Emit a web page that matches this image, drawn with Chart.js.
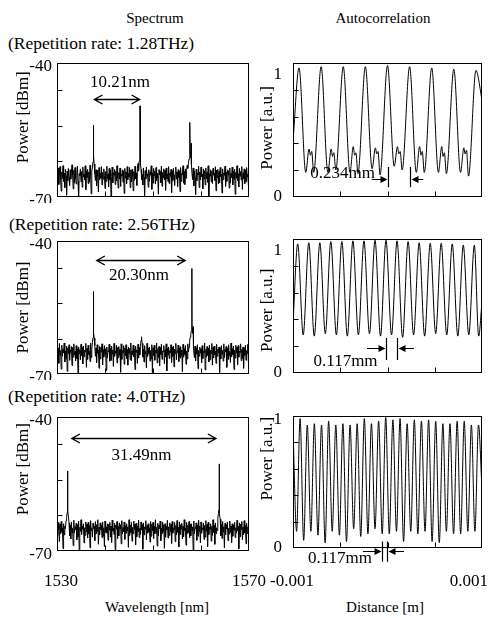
<!DOCTYPE html>
<html><head><meta charset="utf-8">
<script src="https://cdn.jsdelivr.net/npm/chart.js@4.4.1/dist/chart.umd.min.js"></script>
<style>
html,body{margin:0;padding:0;background:#fff;width:492px;height:618px;overflow:hidden;position:relative;font-family:'Liberation Serif','DejaVu Serif',serif;color:#000;}
canvas{position:absolute;}
.t{position:absolute;white-space:nowrap;line-height:1;transform:translateY(-50%);}
.c{transform:translate(-50%,-50%);}
</style></head><body>
<div class="t c" style="left:155px;top:18px;font-size:15px">Spectrum</div>
<div class="t c" style="left:383px;top:18px;font-size:15px">Autocorrelation</div>
<div class="t" style="left:8px;top:44px;font-size:17.5px">(Repetition rate: 1.28THz)</div>
<div class="t" style="left:9px;top:225px;font-size:17.5px">(Repetition rate: 2.56THz)</div>
<div class="t" style="left:8px;top:397px;font-size:17.5px">(Repetition rate: 4.0THz)</div>
<div class="t c" style="left:157px;top:607px;font-size:15px">Wavelength [nm]</div>
<div class="t c" style="left:385px;top:607px;font-size:15px">Distance [m]</div>

<canvas id="L1" width="270" height="150" style="left:0;top:53px"></canvas>
<canvas id="L2" width="270" height="149" style="left:0;top:231px"></canvas>
<canvas id="L3" width="270" height="193" style="left:0;top:407px"></canvas>
<canvas id="R1" width="240" height="150" style="left:252px;top:53px"></canvas>
<canvas id="R2" width="240" height="150" style="left:252px;top:229px"></canvas>
<canvas id="R3" width="240" height="194" style="left:252px;top:406px"></canvas>

<script>
// ---------------- DATA ----------------
// Spectrum sampling grid (nm)
const SPEC_WL_START = 1530;
const SPEC_WL_STEP = 0.125;
const specXTickValues = [1530, 1570];
const specXTickLabels = ['1530', '1570'];
const specYTickValues = [-70, -40];
const specYTickLabels = ['-70', '-40'];
const specMinorX = [1540, 1550, 1560];
const specMinorY = [-62, -54, -46];

// 1.28 THz spectrum: noise floor (dBm) and lines
const specNoise1 = [
-64.1,-66.8,-63.5,-67.2,-64.9,-63.2,-66.1,-68.7,-64.4,-65.9,-63.0,-66.5,-64.7,-67.9,-63.8,-65.4,-69.6,-64.2,-66.3,-63.6,
-65.7,-67.4,-63.9,-66.0,-64.5,-62.8,-65.1,-68.2,-64.0,-66.9,-63.4,-65.8,-67.1,-64.6,-63.1,-66.4,-69.9,-64.8,-65.2,-63.7,
-66.6,-64.3,-67.8,-63.3,-65.5,-64.9,-66.2,-63.0,-68.4,-64.1,-65.6,-63.8,-67.0,-64.4,-66.7,-62.9,-65.0,-69.3,-64.2,-63.5,
-62.1,-61.0,-62.6,-64.8,-66.3,-63.9,-67.5,-64.0,-65.3,-68.9,-63.4,-66.1,-64.7,-65.8,-63.2,-67.3,-64.5,-66.0,-63.7,-65.2,
-68.1,-64.3,-66.5,-63.1,-65.9,-64.8,-67.7,-63.6,-66.2,-64.0,-69.8,-65.4,-63.3,-66.8,-64.6,-65.1,-63.8,-67.2,-64.2,-66.4,
-63.0,-65.7,-68.0,-64.5,-66.0,-63.5,-67.6,-64.9,-65.3,-63.9,-66.7,-64.1,-69.2,-63.6,-65.8,-64.4,-67.0,-63.2,-66.1,-64.7,
-65.5,-63.4,-67.9,-64.0,-66.6,-63.8,-65.2,-68.6,-64.3,-66.3,-63.1,-65.9,-64.6,-67.4,-63.7,-62.5,-64.2,-62.0,-61.2,-62.3,
-63.8,-66.2,-64.9,-67.3,-63.5,-65.6,-69.7,-64.1,-66.0,-63.3,-65.4,-64.8,-67.8,-63.9,-66.5,-64.4,-65.1,-63.0,-68.3,-64.6,
-66.9,-63.6,-65.3,-64.2,-67.1,-63.4,-66.4,-64.7,-65.8,-69.4,-63.9,-65.0,-64.3,-66.8,-63.1,-67.6,-64.5,-65.7,-63.7,-66.2,
-64.0,-68.5,-63.5,-65.9,-64.8,-66.6,-63.2,-67.0,-64.6,-65.4,-63.8,-69.0,-64.1,-66.3,-63.6,-65.2,-67.4,-64.9,-63.3,-66.0,
-64.4,-67.7,-63.9,-65.6,-64.2,-68.8,-63.4,-66.5,-64.7,-65.1,-63.0,-66.9,-64.3,-67.2,-63.7,-65.8,-64.0,-62.9,-63.6,-62.4,
-61.5,-60.4,-59.8,-61.1,-62.7,-64.8,-66.1,-63.5,-67.5,-64.2,-65.7,-69.5,-63.8,-66.4,-64.6,-65.0,-63.1,-67.9,-64.4,-66.2,
-63.3,-65.5,-64.9,-68.2,-63.7,-66.0,-64.1,-67.3,-63.5,-65.9,-64.5,-66.7,-63.0,-69.9,-64.8,-65.3,-63.9,-66.6,-64.2,-67.0,
-63.6,-65.1,-64.7,-66.3,-63.2,-68.6,-64.0,-65.7,-63.8,-67.1,-64.3,-66.8,-63.4,-65.4,-64.9,-69.1,-63.7,-66.1,-64.6,-65.2,
-63.1,-67.6,-64.4,-66.5,-63.9,-65.0,-64.1,-68.0,-63.5,-66.9,-64.7,-65.6,-63.3,-67.3,-64.2,-66.0,-63.8,-69.4,-64.5,-65.8,
-63.0,-66.4,-64.8,-67.7,-63.6,-65.3,-64.3,-66.2,-63.2,-68.3,-64.6,-65.9,-63.7,-67.0,-64.0,-66.6,-63.4,-65.5,-64.9,-67.4,
-64.2];
const specPeakWl1  = [1537.6, 1547.3, 1557.7, 1557.95];
const specPeakDbm1 = [-53.9, -49.6, -53.3, -58.0];

// 2.56 THz spectrum
const specNoise2 = [
-63.9,-66.4,-64.2,-67.6,-63.1,-65.8,-64.7,-68.9,-63.5,-66.0,-64.4,-65.2,-63.0,-67.3,-64.8,-66.6,-63.7,-69.4,-64.1,-65.5,
-63.4,-66.9,-64.6,-65.1,-63.8,-68.1,-64.0,-66.2,-63.2,-65.7,-64.9,-67.0,-63.6,-66.5,-64.3,-69.8,-63.9,-65.4,-64.5,-66.8,
-63.3,-65.9,-64.0,-67.7,-63.7,-66.1,-64.6,-65.0,-63.1,-68.5,-64.2,-66.7,-63.5,-65.6,-64.8,-67.2,-63.0,-66.3,-64.4,-62.9,
-61.8,-60.7,-61.9,-63.6,-66.0,-64.1,-67.4,-63.4,-65.3,-64.7,-68.7,-63.8,-66.6,-64.0,-65.1,-63.2,-67.9,-64.5,-66.2,-63.6,
-65.7,-64.3,-69.2,-63.9,-66.4,-64.8,-65.0,-63.3,-67.1,-64.2,-66.9,-63.7,-65.5,-64.6,-68.3,-63.1,-66.0,-64.9,-65.3,-63.5,
-67.5,-64.0,-66.3,-63.8,-65.8,-64.4,-69.6,-63.2,-66.7,-64.7,-65.2,-63.6,-67.8,-64.1,-65.9,-63.4,-66.5,-64.5,-68.0,-63.9,
-65.4,-64.2,-66.8,-63.0,-67.0,-64.8,-65.6,-63.5,-66.1,-64.3,-69.0,-63.7,-65.1,-64.6,-67.6,-63.3,-66.4,-64.0,-65.7,-63.8,
-62.4,-61.9,-63.1,-66.2,-64.4,-67.3,-63.6,-65.4,-64.9,-68.6,-63.1,-66.0,-64.2,-65.5,-63.9,-67.1,-64.7,-66.6,-63.4,-69.7,
-64.1,-65.8,-63.5,-66.9,-64.6,-65.2,-63.0,-67.5,-64.3,-66.3,-63.8,-68.2,-64.0,-65.6,-63.3,-66.7,-64.8,-65.0,-63.6,-67.7,
-64.5,-66.1,-63.2,-69.3,-64.2,-65.7,-63.9,-66.5,-64.7,-65.3,-63.4,-67.4,-64.0,-66.0,-63.7,-68.4,-64.4,-65.4,-63.1,-66.8,
-64.9,-65.1,-63.5,-67.2,-64.1,-66.4,-63.8,-65.9,-64.6,-69.5,-63.3,-66.2,-64.3,-65.6,-63.6,-67.8,-64.8,-66.6,-63.2,-65.0,
-64.0,-62.6,-61.7,-61.0,-60.2,-59.6,-60.8,-62.5,-64.4,-66.3,-63.7,-67.0,-64.1,-65.5,-63.4,-68.8,-64.7,-66.0,-63.9,-65.3,
-64.3,-67.5,-63.6,-66.5,-64.9,-65.1,-63.0,-69.1,-64.5,-66.2,-63.8,-65.8,-64.2,-67.3,-63.5,-66.8,-64.6,-65.4,-63.1,-68.0,
-64.0,-66.4,-63.7,-65.7,-64.8,-67.6,-63.3,-66.0,-64.4,-65.2,-63.9,-69.7,-64.1,-66.6,-63.6,-65.5,-64.7,-67.1,-63.2,-66.3,
-64.5,-65.0,-63.8,-68.5,-64.2,-66.7,-63.4,-65.9,-64.9,-67.4,-63.0,-66.1,-64.3,-65.6,-63.7,-69.0,-64.6,-66.4,-63.5,-65.3,
-64.0,-67.9,-63.6,-66.2,-64.8,-65.1,-63.2,-67.0,-64.4,-66.5,-63.9,-68.7,-64.1,-65.8,-63.5,-66.9,-64.7,-65.4,-63.3,-67.2,
-64.6];
const specPeakWl2  = [1537.6, 1547.6, 1558.1, 1558.35];
const specPeakDbm2 = [-51.4, -61.6, -46.2, -59.3];

// 4.0 THz spectrum
const specNoise3 = [
-64.3,-66.7,-63.6,-65.2,-67.9,-64.0,-66.1,-63.4,-65.8,-64.8,-69.5,-63.9,-66.4,-64.5,-65.0,-63.2,-62.5,-61.4,-60.9,-62.2,
-63.7,-66.6,-64.2,-67.3,-63.5,-65.9,-64.9,-68.8,-63.1,-66.0,-64.6,-65.3,-63.8,-67.5,-64.1,-66.8,-63.3,-69.9,-64.7,-65.6,
-63.0,-66.3,-64.4,-65.1,-63.9,-68.2,-64.8,-66.5,-63.5,-65.7,-64.0,-67.1,-63.6,-66.2,-64.3,-69.3,-63.2,-65.4,-64.9,-66.9,
-63.8,-65.0,-64.5,-67.7,-63.4,-66.1,-64.1,-65.6,-63.0,-68.5,-64.7,-66.4,-63.7,-65.2,-64.2,-67.0,-63.5,-66.7,-64.8,-69.0,
-63.3,-65.8,-64.6,-66.0,-63.9,-67.6,-64.0,-65.3,-63.6,-66.9,-64.4,-68.1,-63.1,-65.5,-64.9,-66.3,-63.8,-69.7,-64.2,-65.1,
-63.4,-67.2,-64.5,-66.6,-63.7,-65.0,-64.1,-68.4,-63.2,-66.2,-64.8,-65.7,-63.5,-67.4,-64.3,-66.0,-63.9,-65.4,-64.6,-69.2,
-63.0,-66.5,-64.2,-65.9,-63.6,-67.8,-64.7,-66.1,-63.3,-65.2,-64.0,-68.6,-63.8,-66.8,-64.4,-65.6,-63.1,-67.0,-64.9,-66.3,
-63.5,-65.3,-64.1,-69.6,-63.7,-66.4,-64.6,-65.1,-63.2,-67.5,-64.3,-66.0,-63.9,-65.8,-64.8,-68.0,-63.4,-66.7,-64.0,-65.5,
-63.6,-67.2,-64.5,-66.2,-63.0,-65.9,-64.7,-68.9,-63.8,-66.6,-64.2,-65.0,-63.3,-67.7,-64.9,-66.1,-63.5,-65.7,-64.1,-69.4,
-63.9,-66.9,-64.4,-65.3,-63.1,-67.1,-64.6,-66.5,-63.7,-65.6,-64.0,-68.3,-63.4,-66.0,-64.8,-65.2,-63.6,-67.9,-64.3,-66.4,
-63.2,-65.8,-64.7,-69.1,-63.5,-66.3,-64.1,-65.1,-63.8,-67.3,-64.5,-66.8,-63.0,-65.4,-64.9,-68.7,-63.6,-66.1,-64.2,-65.9,
-63.4,-67.0,-64.0,-66.6,-63.9,-65.5,-64.6,-69.8,-63.3,-66.2,-64.8,-65.0,-63.7,-67.6,-64.2,-66.7,-63.1,-65.7,-64.4,-68.2,
-63.5,-66.0,-64.9,-65.3,-63.8,-67.4,-64.3,-66.9,-63.2,-65.6,-64.1,-69.0,-63.6,-66.3,-64.7,-65.1,-63.9,-67.8,-64.5,-66.5,
-63.0,-65.9,-64.2,-68.5,-63.7,-66.1,-64.8,-65.4,-62.7,-61.6,-60.8,-61.5,-62.9,-66.6,-64.0,-67.2,-63.4,-65.7,-64.6,-69.3,
-63.8,-66.4,-64.1,-65.0,-63.5,-67.7,-64.9,-66.2,-63.3,-65.8,-64.4,-68.1,-63.9,-66.7,-64.2,-65.3,-63.6,-67.0,-64.8,-66.0,
-63.1,-65.5,-64.5,-69.5,-63.7,-66.8,-64.0,-65.2,-63.4,-67.5,-64.7,-66.3,-63.2,-65.9,-64.3,-68.4,-63.8,-66.1,-64.6,-65.6,
-64.1];
const specPeakWl3  = [1532.2, 1563.75];
const specPeakDbm3 = [-52.1, -50.5];

// Autocorrelation axes (distance in mm, labelled in m)
const acXTickValues = [-1, 1];
const acXTickLabels = ['-0.001', '0.001'];
const acYTickValues = [0, 1];
const acYTickLabels = ['0', '1'];
const acMinorX = [-0.5, 0, 0.5];

// 1.28 THz autocorrelation
const acDist1 = [-1.000,-0.936,-0.865,-0.830,-0.816,-0.802,-0.781,
 -0.702,-0.631,-0.596,-0.582,-0.568,-0.547,
 -0.468,-0.397,-0.362,-0.348,-0.334,-0.313,
 -0.234,-0.163,-0.128,-0.114,-0.100,-0.079,
  0.000, 0.071, 0.106, 0.120, 0.134, 0.155,
  0.234, 0.305, 0.340, 0.354, 0.368, 0.389,
  0.468, 0.539, 0.574, 0.588, 0.602, 0.623,
  0.702, 0.773, 0.808, 0.822, 0.836, 0.857,
  0.936, 1.000];
const acPow1 = [0.45,1.05,0.20,0.39,0.34,0.37,0.20,
 1.06,0.20,0.39,0.33,0.36,0.22,
 1.06,0.20,0.41,0.34,0.36,0.19,
 1.06,0.23,0.40,0.35,0.37,0.18,
 1.07,0.25,0.41,0.35,0.37,0.22,
 1.06,0.20,0.41,0.34,0.37,0.20,
 1.05,0.20,0.41,0.33,0.36,0.19,
 1.04,0.20,0.40,0.35,0.38,0.17,
 1.03,0.79];

// 2.56 THz autocorrelation
const acDist2 = [-1.000,-0.950,-0.892,-0.833,-0.775,-0.716,-0.658,-0.600,-0.541,-0.483,-0.425,-0.366,-0.308,
 -0.249,-0.191,-0.132,-0.074,-0.016,0.043,0.101,0.160,0.218,0.276,0.335,0.393,0.452,0.510,
 0.568,0.627,0.685,0.744,0.802,0.860,0.919,0.965,1.000];
const acPow2 = [0.40,1.05,0.31,1.06,0.30,1.06,0.32,1.07,0.31,1.07,0.30,1.075,0.31,
 1.075,0.32,1.08,0.30,1.08,0.31,1.075,0.29,1.07,0.31,1.06,0.30,1.055,0.32,
 1.055,0.31,1.05,0.30,1.04,0.31,1.04,0.30,0.58];

// 4.0 THz autocorrelation
const acDist3 = [-1.000,-0.962,-0.925,-0.887,-0.849,-0.811,-0.774,-0.736,-0.698,-0.660,-0.623,-0.585,-0.547,-0.509,
 -0.472,-0.434,-0.396,-0.358,-0.321,-0.283,-0.245,-0.207,-0.170,-0.132,-0.094,-0.056,-0.019,0.019,
 0.057,0.095,0.133,0.170,0.208,0.246,0.284,0.321,0.359,0.397,0.435,0.472,0.510,0.548,
 0.586,0.623,0.661,0.699,0.737,0.774,0.812,0.850,0.888,0.925,0.963,1.000];
const acPow3 = [0.93,0.13,1.01,0.06,0.96,0.13,0.97,0.10,0.96,0.04,0.99,0.13,0.96,0.10,
 0.97,0.05,0.96,0.15,0.97,0.09,1.01,0.11,0.97,0.15,0.99,0.11,1.02,0.11,
 1.00,0.13,1.01,0.05,0.97,0.13,1.00,0.11,0.99,0.13,1.00,0.05,0.99,0.04,
 0.97,0.13,0.97,0.11,0.99,0.11,0.99,0.13,0.96,0.13,0.96,0.45];

// ---------------- DRAWING ----------------
const FONT = "'Liberation Serif','DejaVu Serif',serif";

function specPoints(noise, pkWl, pkDbm) {
  const pts = noise.map((y, i) => ({x: SPEC_WL_START + i * SPEC_WL_STEP, y}));
  pkWl.forEach((w, j) => pts.push({x: w, y: pkDbm[j]}));
  pts.sort((a, b) => a.x - b.x);
  return pts;
}
function acPoints(dist, pow) { return dist.map((d, i) => ({x: d, y: pow[i]})); }

const deco = {
  id: 'deco',
  afterDraw(chart, args, o) {
    const ctx = chart.ctx, a = chart.chartArea, xs = chart.scales.x, ys = chart.scales.y;
    const X = v => xs.getPixelForValue(v), Y = v => ys.getPixelForValue(v);
    ctx.save();
    ctx.strokeStyle = '#000'; ctx.fillStyle = '#000'; ctx.lineWidth = 1;
    const L = Math.round(a.left) + 0.5, T = Math.round(a.top) + 0.5, R = Math.round(a.right) - 0.5, B = Math.round(a.bottom) - 0.5;
    ctx.beginPath();
    (o.xMinor || []).forEach(v => { const p = Math.round(X(v)) + 0.5; ctx.moveTo(p, B); ctx.lineTo(p, B - 5); });
    (o.yMinor || []).forEach(v => { const p = Math.round(Y(v)) + 0.5; ctx.moveTo(L, p); ctx.lineTo(L + 5, p); });
    ctx.stroke();
    ctx.strokeRect(L, T, R - L, B - T);
    ctx.font = '17px ' + FONT;
    ctx.textBaseline = 'middle';
    (o.xLabels || []).forEach(l => {
      ctx.textAlign = l.align || 'center';
      ctx.fillText(l.text, X(l.value) + (l.dx || 0), a.bottom + o.xLabelDy);
    });
    if (o.span) {
      const s = o.span, x1 = X(s.x1), x2 = X(s.x2), y = Math.round(Y(s.y)) + 0.5;
      ctx.lineWidth = 1.4;
      ctx.beginPath();
      ctx.moveTo(x1, y); ctx.lineTo(x2, y);
      ctx.moveTo(x1 + 8, y - 4.5); ctx.lineTo(x1, y); ctx.lineTo(x1 + 8, y + 4.5);
      ctx.moveTo(x2 - 8, y - 4.5); ctx.lineTo(x2, y); ctx.lineTo(x2 - 8, y + 4.5);
      ctx.stroke();
      ctx.textAlign = 'center';
      ctx.fillText(s.text, X(s.tx), Y(s.ty));
    }
    if (o.gap) {
      const g = o.gap, b1 = Math.round(X(g.b1)) + 0.5, b2 = Math.round(X(g.b2)) + 0.5;
      const yt = Y(g.yTop), yb = Y(g.yBot), ya = Math.round(Y(g.yA)) + 0.5;
      ctx.lineWidth = 1.2;
      ctx.beginPath();
      ctx.moveTo(b1, yt); ctx.lineTo(b1, yb);
      ctx.moveTo(b2, yt); ctx.lineTo(b2, yb);
      ctx.moveTo(X(g.from1), ya); ctx.lineTo(b1 - 6, ya);
      ctx.moveTo(X(g.from2), ya); ctx.lineTo(b2 + 6, ya);
      ctx.stroke();
      ctx.beginPath();
      ctx.moveTo(b1 - 1, ya); ctx.lineTo(b1 - 8, ya - 3.5); ctx.lineTo(b1 - 8, ya + 3.5); ctx.closePath();
      ctx.moveTo(b2 + 1, ya); ctx.lineTo(b2 + 8, ya - 3.5); ctx.lineTo(b2 + 8, ya + 3.5); ctx.closePath();
      ctx.fill();
      ctx.textAlign = 'center';
      ctx.fillText(g.text, X(g.tx), Y(g.ty));
    }
    ctx.restore();
  }
};

function makeChart(id, cfg) {
  const spec = cfg.kind === 'spec';
  // leading / trailing spaces nudge the rotated axis title along the axis
  const titleText = ' '.repeat(cfg.lead || 0) + cfg.title + ' '.repeat(cfg.trail || 0);
  new Chart(document.getElementById(id), {
    type: 'line',
    data: {datasets: [{
      data: cfg.points, borderColor: '#000', borderWidth: 1, pointRadius: 0, fill: false,
      tension: 0, cubicInterpolationMode: spec ? 'default' : 'monotone'
    }]},
    options: {
      responsive: false, animation: false, devicePixelRatio: 1, events: [],
      layout: {padding: {top: 10, right: cfg.padRight, bottom: cfg.padBottom, left: 0}},
      plugins: {legend: {display: false}, tooltip: {enabled: false}, deco: cfg.deco},
      scales: {
        x: {type: 'linear', display: false, min: cfg.xMin, max: cfg.xMax},
        y: {
          min: cfg.yMin, max: cfg.yMax,
          afterFit: s => { s.width = cfg.axisW; s.paddingTop = 0; s.paddingBottom = 0; },
          afterBuildTicks: s => { s.ticks = cfg.yTicks.map(v => ({value: v})); },
          grid: {display: false, drawTicks: false}, border: {display: false},
          ticks: {padding: cfg.tickPad, labelOffset: cfg.labelOffset, color: '#000', font: {family: FONT, size: 17},
                  callback: v => cfg.yLabels[cfg.yTicks.indexOf(v)]},
          title: {display: true, text: titleText, color: '#000', font: {family: FONT, size: 17},
                  padding: {top: cfg.titlePad, bottom: 0}}
        }
      }
    },
    plugins: [deco]
  });
}

const specBase = {kind: 'spec', xMin: 1530, xMax: 1570, yMin: -70, yMax: -40, axisW: 57, padRight: 21,
  tickPad: 5, labelOffset: 4, titlePad: 13, title: 'Power [dBm]', yTicks: specYTickValues, yLabels: specYTickLabels};
const acBase = {kind: 'ac', xMin: -1, xMax: 1, yMin: 0, axisW: 41, padRight: 10,
  tickPad: 11, labelOffset: 0, titlePad: 5, title: 'Power [a.u.]', yTicks: acYTickValues, yLabels: acYTickLabels};

makeChart('L1', Object.assign({}, specBase, {points: specPoints(specNoise1, specPeakWl1, specPeakDbm1), padBottom: 6, lead: 6,
  deco: {xMinor: specMinorX, yMinor: specMinorY,
    span: {x1: 1537.8, x2: 1547.2, y: -48.0, text: '10.21nm', tx: 1543.1, ty: -44.3}}}));
makeChart('L2', Object.assign({}, specBase, {points: specPoints(specNoise2, specPeakWl2, specPeakDbm2), padBottom: 6,
  deco: {xMinor: specMinorX, yMinor: specMinorY,
    span: {x1: 1538.3, x2: 1556.7, y: -44.3, text: '20.30nm', tx: 1547.1, ty: -47.9}}}));
makeChart('L3', Object.assign({}, specBase, {points: specPoints(specNoise3, specPeakWl3, specPeakDbm3), padBottom: 49, lead: 7,
  deco: {xMinor: specMinorX, yMinor: specMinorY, xLabelDy: 31,
    xLabels: [{value: specXTickValues[0], text: specXTickLabels[0], dx: 4},
              {value: specXTickValues[1], text: specXTickLabels[1], dx: 0}],
    span: {x1: 1533.1, x2: 1563.1, y: -44.8, text: '31.49nm', tx: 1547.6, ty: -48.7}}}));

makeChart('R1', Object.assign({}, acBase, {points: acPoints(acDist1, acPow1), yMax: 1.09, padBottom: 6, lead: 1,
  deco: {xMinor: acMinorX, yMinor: [0.218, 0.436, 0.654, 0.872],
    gap: {b1: 0, b2: 0.234, yTop: 0.244, yBot: 0.08, yA: 0.146, from1: -0.167, from2: 0.379,
          text: '0.234mm', tx: -0.476, ty: 0.187}}}));
makeChart('R2', Object.assign({}, acBase, {points: acPoints(acDist2, acPow2), yMax: 1.09, padBottom: 6, trail: 2,
  deco: {xMinor: acMinorX, yMinor: [0.218, 0.436, 0.654, 0.872],
    gap: {b1: -0.016, b2: 0.101, yTop: 0.285, yBot: 0.106, yA: 0.206, from1: -0.217, from2: 0.280,
          text: '0.117mm', tx: -0.444, ty: 0.092}}}));
makeChart('R3', Object.assign({}, acBase, {points: acPoints(acDist3, acPow3), yMax: 1.03, padBottom: 52, lead: 11,
  deco: {xMinor: acMinorX, yMinor: [0.206, 0.412, 0.618, 0.824], xLabelDy: 34,
    xLabels: [{value: acXTickValues[0], text: acXTickLabels[0], dx: -1},
              {value: acXTickValues[1], text: acXTickLabels[1], dx: 6, align: 'right'}],
    gap: {b1: -0.061, b2: -0.008, yTop: 0.05, yBot: -0.107, yA: -0.023, from1: -0.259, from2: 0.175,
          text: '0.117mm', tx: -0.503, ty: -0.086}}}));
</script>
</body></html>
